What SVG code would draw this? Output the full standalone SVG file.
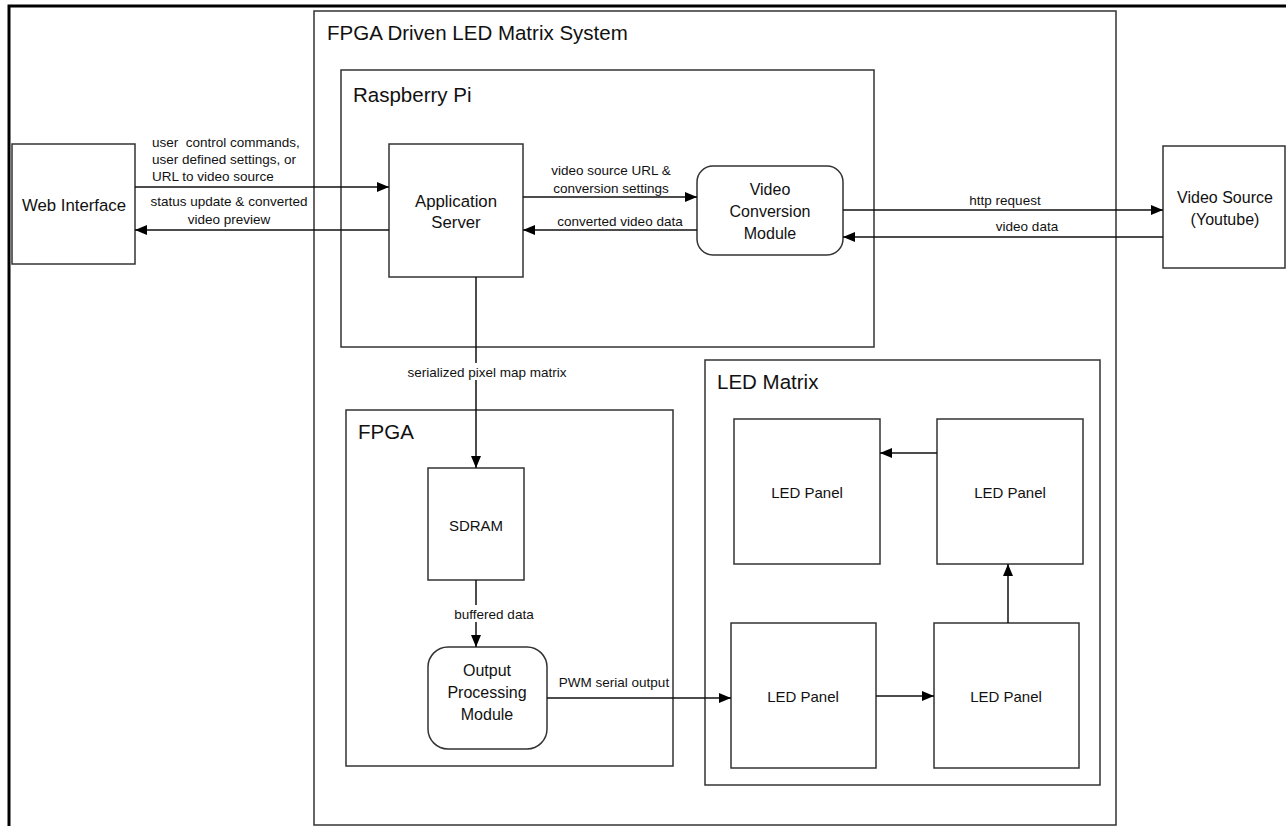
<svg xmlns="http://www.w3.org/2000/svg" width="1286" height="826" viewBox="0 0 1286 826">
<style>
.box{fill:#fff;stroke:#333;stroke-width:1.5}
.cont{fill:none;stroke:#333;stroke-width:1.5}
.t{font-family:"Liberation Sans",Arial,sans-serif;fill:#111}
.lbl{font-size:13.5px}
.node{font-size:16px}
.big{font-size:16.8px}
.sm{font-size:15px}
.title{font-size:20.5px}
.c{text-anchor:middle}
.ln{fill:none;stroke:#111;stroke-width:1.5}
</style>
<defs>
<marker id="ah" viewBox="0 0 12 10" refX="12" refY="5" markerWidth="12" markerHeight="10" markerUnits="userSpaceOnUse" orient="auto">
<path d="M0,0 L12,5 L0,10 Z" fill="#000"/>
</marker>
</defs>
<rect width="1286" height="826" fill="#fff"/>
<path d="M9,826 V6 H1286" fill="none" stroke="#000" stroke-width="3"/>

<g id="fpga-system">
<rect class="cont" x="314" y="11" width="802" height="814"/>
<text class="t title" x="327" y="40">FPGA Driven LED Matrix System</text>
</g>
<g id="raspberry-pi">
<rect class="cont" x="341" y="70" width="533" height="277"/>
<text class="t title" x="353" y="102">Raspberry Pi</text>
</g>
<g id="fpga">
<rect class="cont" x="346" y="410" width="327" height="356"/>
<text class="t title" x="358" y="439">FPGA</text>
</g>
<g id="led-matrix">
<rect class="cont" x="705" y="360" width="395" height="425"/>
<text class="t title" x="717" y="389">LED Matrix</text>
</g>

<g id="web-interface">
<rect class="box" x="12" y="144" width="123" height="120"/>
<text class="t big c" x="74" y="211">Web Interface</text>
</g>
<g id="application-server">
<rect class="box" x="389" y="144" width="134" height="133"/>
<text class="t big c" x="456" y="207">Application</text>
<text class="t big c" x="456" y="228">Server</text>
</g>
<g id="video-conversion-module">
<rect class="box" x="697" y="166" width="146" height="89" rx="16"/>
<text class="t node c" x="770" y="195">Video</text>
<text class="t node c" x="770" y="217">Conversion</text>
<text class="t node c" x="770" y="239">Module</text>
</g>
<g id="video-source">
<rect class="box" x="1163" y="146" width="122" height="122"/>
<text class="t node c" x="1225" y="203">Video Source</text>
<text class="t node c" x="1225" y="225">(Youtube)</text>
</g>
<g id="sdram">
<rect class="box" x="428" y="468" width="96" height="112"/>
<text class="t sm c" x="476" y="531">SDRAM</text>
</g>
<g id="output-processing-module">
<rect class="box" x="428" y="647" width="119" height="102" rx="20"/>
<text class="t node c" x="487" y="676">Output</text>
<text class="t node c" x="487" y="698">Processing</text>
<text class="t node c" x="487" y="720">Module</text>
</g>
<g id="led-panel-tl">
<rect class="box" x="734" y="419" width="146" height="145"/>
<text class="t sm c" x="807" y="498">LED Panel</text>
</g>
<g id="led-panel-tr">
<rect class="box" x="937" y="419" width="146" height="145"/>
<text class="t sm c" x="1010" y="498">LED Panel</text>
</g>
<g id="led-panel-bl">
<rect class="box" x="731" y="623" width="145" height="145"/>
<text class="t sm c" x="803" y="702">LED Panel</text>
</g>
<g id="led-panel-br">
<rect class="box" x="934" y="623" width="145" height="145"/>
<text class="t sm c" x="1006" y="702">LED Panel</text>
</g>

<g id="connectors">
<path class="ln" d="M135,187 H389" marker-end="url(#ah)"/>
<path class="ln" d="M389,230 H135" marker-end="url(#ah)"/>
<path class="ln" d="M523,197 H697" marker-end="url(#ah)"/>
<path class="ln" d="M697,230 H523" marker-end="url(#ah)"/>
<path class="ln" d="M843,210 H1163" marker-end="url(#ah)"/>
<path class="ln" d="M1163,237 H843" marker-end="url(#ah)"/>
<path class="ln" d="M476,277 V468" marker-end="url(#ah)"/>
<path class="ln" d="M476,580 V647" marker-end="url(#ah)"/>
<path class="ln" d="M547,698 H731" marker-end="url(#ah)"/>
<path class="ln" d="M876,696 H934" marker-end="url(#ah)"/>
<path class="ln" d="M1008,623 V564" marker-end="url(#ah)"/>
<path class="ln" d="M937,453 H880" marker-end="url(#ah)"/>

<text class="t lbl" x="152" y="147" xml:space="preserve">user  control commands,</text>
<text class="t lbl" x="152" y="164">user defined settings, or</text>
<text class="t lbl" x="152" y="181">URL to video source</text>
<text class="t lbl c" x="229" y="206">status update &amp; converted</text>
<text class="t lbl c" x="229" y="224">video preview</text>
<text class="t lbl c" x="611" y="175">video source URL &amp;</text>
<text class="t lbl c" x="611" y="193">conversion settings</text>
<text class="t lbl c" x="620" y="226">converted video data</text>
<text class="t lbl c" x="1005" y="205">http request</text>
<text class="t lbl c" x="1027" y="231">video data</text>
<rect x="403" y="363" width="168" height="17" fill="#fff"/>
<text class="t lbl c" x="487" y="377">serialized pixel map matrix</text>
<rect x="447" y="605" width="94" height="17" fill="#fff"/>
<text class="t lbl c" x="494" y="619">buffered data</text>
<text class="t lbl c" x="614" y="687">PWM serial output</text>
</g>
</svg>
